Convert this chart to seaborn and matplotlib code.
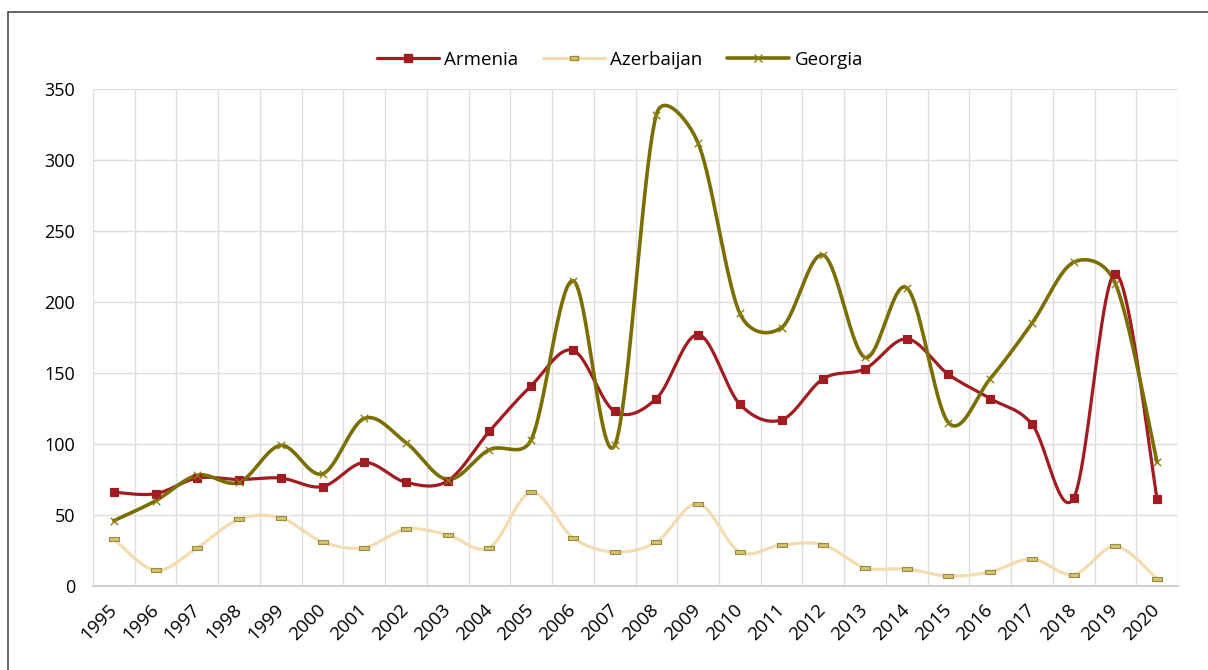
import numpy as np
import pandas as pd
import seaborn as sns
import matplotlib.pyplot as plt
from matplotlib.lines import Line2D
from matplotlib.patches import Rectangle

years = list(range(1995, 2021))
armenia = [66, 65, 76, 75, 76, 70, 87, 73, 74, 109, 141, 166, 123, 132, 177, 128,
           117, 146, 153, 174, 149, 132, 114, 62, 220, 61]
azerbaijan = [33, 11, 27, 47, 48, 31, 27, 40, 36, 27, 66, 34, 24, 31, 58, 24,
              29, 29, 13, 12, 7, 10, 19, 8, 28, 5]
georgia = [46, 60, 78, 73, 99, 79, 118, 101, 75, 96, 103, 215, 99, 332, 312, 192,
           182, 233, 161, 210, 115, 146, 185, 228, 213, 87]

sns.set_theme(style='white')
plt.rcParams['font.family'] = ['Open Sans', 'DejaVu Sans']
plt.rcParams['text.color'] = 'black'
plt.rcParams['xtick.color'] = 'black'
plt.rcParams['ytick.color'] = 'black'

# pixel scale of one x step / one y unit, used so the smoothing works in screen space
SX = (1178 - 93) / 26
SY = (586 - 89) / 350


def smooth(xs, ys, n=40):
    # spreadsheet style smoothed line: bezier, control arm 1/6 of the chord,
    # limited to half of the segment length
    p = np.column_stack([np.asarray(xs, float) * SX, np.asarray(ys, float) * SY])
    p = np.vstack([p[0], p, p[-1]])
    t = np.linspace(0, 1, n)[:, None]
    out = []
    for i in range(1, len(p) - 2):
        p0, p1, p2, p3 = p[i - 1], p[i], p[i + 1], p[i + 2]
        seg = np.linalg.norm(p2 - p1)
        a = (p2 - p0) / 6
        b = (p3 - p1) / 6
        if np.linalg.norm(a) > seg / 2:
            a = a * (seg / 2) / np.linalg.norm(a)
        if np.linalg.norm(b) > seg / 2:
            b = b * (seg / 2) / np.linalg.norm(b)
        c1 = p1 + a
        c2 = p2 - b
        bz = (1 - t) ** 3 * p1 + 3 * (1 - t) ** 2 * t * c1 + 3 * (1 - t) * t ** 2 * c2 + t ** 3 * p2
        out.append(bz)
    out = np.vstack(out)
    return out[:, 0] / SX, out[:, 1] / SY


rect = [(-1, -0.4), (1, -0.4), (1, 0.4), (-1, 0.4), (-1, -0.4)]
series = [
    ('Armenia', armenia, '#A11B20', 2.3, 's', '#A11B20', '#A11B20', 40),
    ('Azerbaijan', azerbaijan, '#F3DCB0', 2.3, rect, '#D4C272', '#9C8B3B', 45),
    ('Georgia', georgia, '#7A6E00', 2.6, 'x', '#8A7E10', '#8A7E10', 28),
]

fig = plt.figure(figsize=(12.08, 6.70), dpi=100)
ax = fig.add_axes([93 / 1208, 1 - 586 / 670, (1178 - 93) / 1208, (586 - 89) / 670])

pos = np.arange(len(years))
handles = []
for name, vals, lc, lw, mk, mfc, mec, ms in series:
    sx, sy = smooth(pos, vals)
    ax.plot(sx, sy, color=lc, lw=lw, solid_capstyle='round', zorder=3)
    df = pd.DataFrame({'x': pos, 'y': vals})
    sns.scatterplot(data=df, x='x', y='y', marker=mk, s=ms, color=mfc,
                    edgecolor=mec, linewidth=0.8 if mk != 'x' else 1.0,
                    ax=ax, zorder=4, legend=False)
    handles.append(Line2D([0], [0], color=lc, lw=lw, marker=mk, markersize=6,
                          markerfacecolor=mfc, markeredgecolor=mec))

ax.set_xlim(-0.5, len(years) - 0.5)
ax.set_ylim(0, 350)
ax.set_yticks(range(0, 351, 50))
ax.set_xticks(pos)
ax.set_xticklabels([str(y) for y in years], rotation=45, ha='right', va='center',
                   rotation_mode='anchor', fontsize=13.5)
ax.tick_params(axis='y', labelsize=13, pad=13)
ax.tick_params(axis='x', pad=15)
ax.set_xticks(np.arange(-0.5, len(years), 1), minor=True)
ax.grid(False)
ax.grid(axis='y', which='major', color='#DEDEDE', lw=1)
ax.grid(axis='x', which='minor', color='#DEDEDE', lw=1)
ax.tick_params(which='both', length=0)
ax.set_xlabel('')
ax.set_ylabel('')
for s in ['top', 'right', 'left']:
    ax.spines[s].set_visible(False)
ax.spines['bottom'].set_color('#D0D0D0')
ax.spines['bottom'].set_linewidth(1.5)

fig.legend(handles, [s[0] for s in series], loc='center', ncol=3,
           bbox_to_anchor=(620 / 1208, 1 - 60 / 670), frameon=False,
           fontsize=13.5, handlelength=3.3, columnspacing=1.3, handletextpad=0.3)

fig.patches.append(Rectangle((8 / 1208, -0.1), 1.2, 1 - 12 / 670 + 0.1,
                             transform=fig.transFigure, fill=False,
                             edgecolor='#4A4A4A', lw=1.2))

fig.savefig('out.png', dpi=100)
